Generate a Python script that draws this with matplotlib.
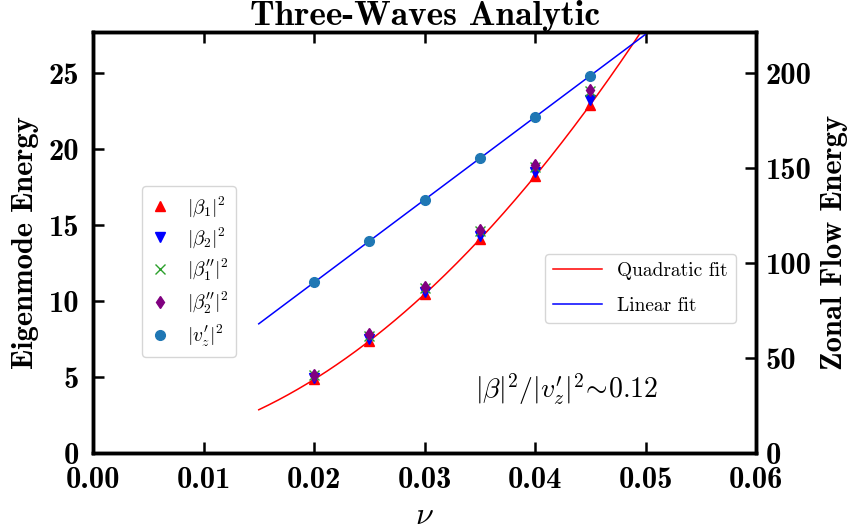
import numpy as np
import matplotlib
matplotlib.use("Agg")
import matplotlib.pyplot as plt

plt.rcParams['mathtext.fontset'] = 'cm'
plt.rcParams['axes.formatter.use_mathtext'] = True

nu = [0.020, 0.025, 0.030, 0.035, 0.040, 0.045]
beta1 = [4.85, 7.35, 10.45, 14.05, 18.25, 22.9]
beta2 = [4.95, 7.5, 10.6, 14.3, 18.5, 23.2]
beta1pp = [5.1, 7.7, 10.85, 14.6, 18.85, 23.8]
beta2pp = [5.15, 7.8, 10.95, 14.7, 18.95, 23.9]
vz = [89.8, 111.5, 133.2, 155.2, 176.8, 198.6]

xticks = [0.00, 0.01, 0.02, 0.03, 0.04, 0.05, 0.06]
yticks_left = [0, 5, 10, 15, 20, 25]
yticks_right = [0, 50, 100, 150, 200]

fig = plt.figure(figsize=(8.55, 5.31), dpi=100)
ax = fig.add_axes([93/855, 1-453/531, 663/855, 421/531])
ax2 = ax.twinx()

# fits
xf = np.linspace(0.015, 0.05, 200)
pq = np.polyfit(nu, beta1, 2)
pl = np.polyfit(nu, vz, 1)
lq, = ax.plot(xf, np.polyval(pq, xf), color='red', lw=1.1, label='Quadratic fit')
ll, = ax2.plot(xf, np.polyval(pl, xf), color='blue', lw=1.1, label='Linear fit')

ms = 6.5
h1, = ax.plot(nu, beta1, '^', color='red', ms=ms, ls='none', label=r'$|\beta_1|^2$')
h2, = ax.plot(nu, beta2, 'v', color='blue', ms=ms, ls='none', label=r'$|\beta_2|^2$')
h3, = ax.plot(nu, beta1pp, 'x', color='tab:green', ms=ms, ls='none', label=r"$|\beta_1''|^2$")
h4, = ax.plot(nu, beta2pp, 'd', color='purple', ms=ms, ls='none', label=r"$|\beta_2''|^2$")
h5, = ax2.plot(nu, vz, 'o', color='tab:blue', ms=7, ls='none', label=r"$|v_z'|^2$")

ax.set_xlim(0, 0.06)
ax.set_ylim(0, 27.7)
ax2.set_ylim(0, 27.7 * 8)
ax.set_xticks(xticks)
ax.set_yticks(yticks_left)
ax2.set_yticks(yticks_right)

bold = 'cmb10'
tfs = 22
ax.set_xticklabels([f'{v:.2f}' for v in xticks], family=bold, fontsize=tfs)
ax.set_yticklabels([str(v) for v in yticks_left], family=bold, fontsize=tfs)
ax2.set_yticklabels([str(v) for v in yticks_right], family=bold, fontsize=tfs)

ax.tick_params(axis='x', direction='in', length=8, width=1.8, top=True, pad=10)
ax.tick_params(axis='y', direction='in', length=8, width=1.8, right=False, pad=10)
ax2.tick_params(axis='y', direction='in', length=8, width=1.8, pad=7)
for a in (ax, ax2):
    for s in a.spines.values():
        s.set_linewidth(2.5)

ax.set_xlabel(r'$\nu$', fontsize=23)
ax.xaxis.set_label_coords(0.5, -0.112)
ax.set_ylabel('Eigenmode Energy', family=bold, fontsize=22)
ax.yaxis.set_label_coords(-0.082, 0.5)
ax2.set_ylabel('Zonal Flow Energy', family=bold, fontsize=22)
ax2.yaxis.set_label_coords(1.098, 0.5)
ax.set_title('Three-Waves Analytic', family=bold, fontsize=25.5, pad=1)

leg1 = ax2.legend(handles=[h1, h2, h3, h4, h5], loc='lower left',
                  bbox_to_anchor=(0.074, 0.228), borderaxespad=0, fontsize=14,
                  handlelength=1.0, handletextpad=0.9, borderpad=0.4,
                  labelspacing=0.35, framealpha=0.8)
ax2.add_artist(leg1)
ax2.legend(handles=[lq, ll], loc='lower left', bbox_to_anchor=(0.682, 0.309),
           borderaxespad=0, prop={'family': 'cmr10', 'size': 14},
           handlelength=2.5, labelspacing=0.9, framealpha=0.8)

ax.text(0.0346, 3.6, r"$|\beta|^2/|v_z'|^2\!\sim\!0.12$", fontsize=20)

fig.savefig('out.png', dpi=100)
